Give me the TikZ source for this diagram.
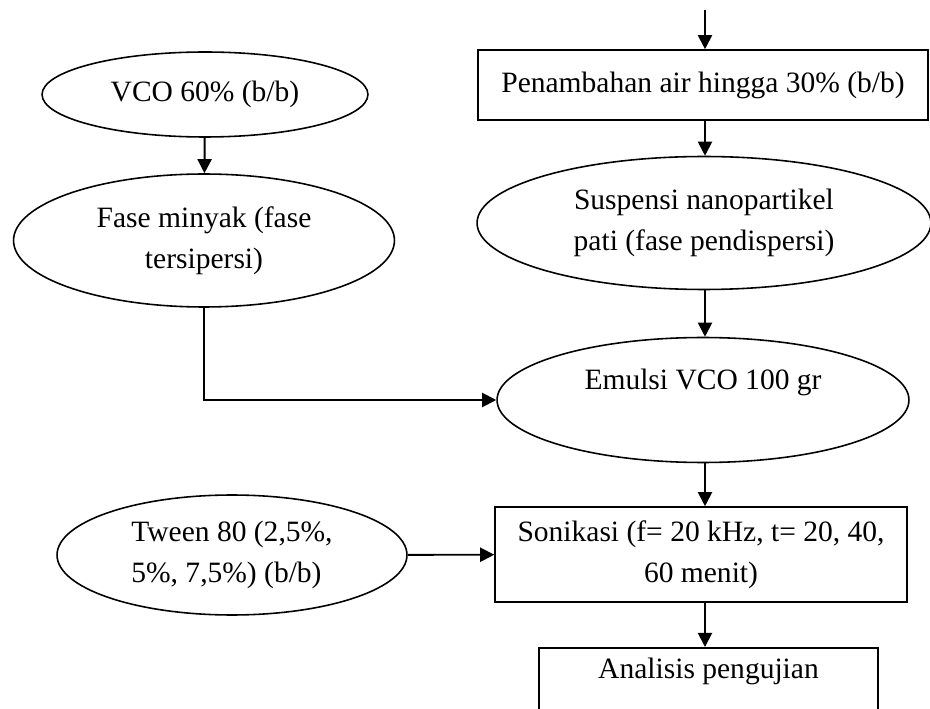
\documentclass[tikz,border=0pt]{standalone}
\usepackage{fontspec}
\setmainfont{Liberation Serif}
\usetikzlibrary{shapes.geometric, arrows.meta}

\begin{document}
\begin{tikzpicture}[x=0.02cm, y=-0.02cm,
        font=\fontsize{16.8}{23.3}\selectfont,
        oval/.style={draw, ellipse, line width=0.9pt, inner sep=0pt, align=center},
        kotak/.style={draw, rectangle, line width=0.9pt, inner sep=0pt, align=center},
        panah/.style={line width=1.1pt, -{Triangle[length=8pt, width=8pt]}}]
    \clip (0, 0) rectangle (930, 709);
    % kolom kanan
    \coordinate (atas) at (705, 10);
    \node[kotak, minimum width=9cm, minimum height=1.4cm] (air) at (703, 85)
        {Penambahan air hingga 30\% (b/b)};
    \node[oval, minimum width=9.08cm, minimum height=2.66cm] (susp) at (704, 223)
        {Suspensi nanopartikel\\pati (fase pendispersi)};
    \node[oval, minimum width=8.24cm, minimum height=2.5cm] (emulsi) at (703, 400)
        {Emulsi VCO 100 gr\\ ~};
    \node[kotak, minimum width=8.24cm, minimum height=1.9cm] (soni) at (701, 554.5)
        {Sonikasi (f= 20 kHz, t= 20, 40,\\60 menit)};
    \node[kotak, minimum width=6.78cm, text height=0.62cm, text depth=1cm, anchor=north]
        (uji) at (708.5, 647) {Analisis pengujian};
    % kolom kiri
    \node[oval, minimum width=6.52cm, minimum height=1.7cm] (vco) at (205, 94.5)
        {VCO 60\% (b/b)};
    \node[oval, minimum width=7.62cm, minimum height=2.66cm] (minyak) at (204, 240.5)
        {Fase minyak (fase\\tersipersi)};
    \node[oval, minimum width=7cm, minimum height=2.4cm, align=left] (tween) at (232, 555)
        {Tween 80 (2,5\%,\\5\%, 7,5\%) (b/b)};

    \draw[panah] (atas) -- (atas |- air.north);
    \draw[panah] (atas |- air.south) -- (atas |- susp.north);
    \draw[panah] (atas |- susp.south) -- (atas |- emulsi.north);
    \draw[panah] (atas |- emulsi.south) -- (atas |- soni.north);
    \draw[panah] (atas |- soni.south) -- (atas |- uji.north);
    \draw[panah] (vco) -- (minyak);
    \draw[panah] (minyak.south) |- (emulsi.west);
    \draw[panah] (tween) -- (soni);
\end{tikzpicture}
\end{document}
